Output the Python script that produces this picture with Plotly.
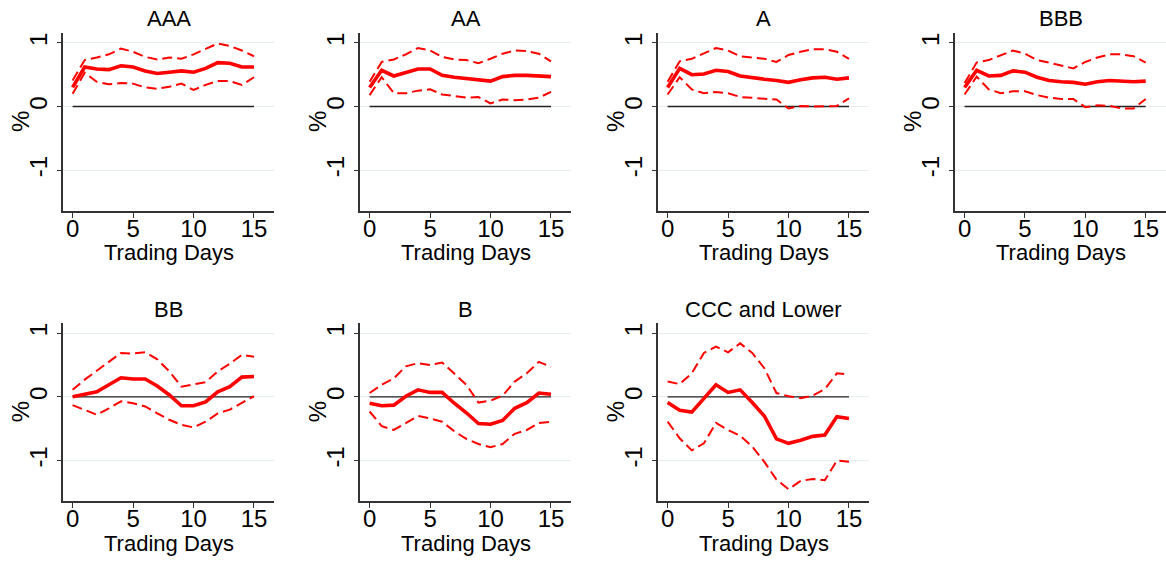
import plotly.graph_objects as go

days = list(range(16))
ratings = ["AAA", "AA", "A", "BBB", "BB", "B", "CCC and Lower"]

aaa_mean = [0.30, 0.62, 0.59, 0.58, 0.64, 0.62, 0.56, 0.52, 0.54, 0.56, 0.54, 0.60, 0.69, 0.68, 0.62, 0.62]
aaa_hi = [0.41, 0.73, 0.77, 0.82, 0.91, 0.86, 0.78, 0.74, 0.77, 0.75, 0.82, 0.90, 0.99, 0.95, 0.88, 0.79]
aaa_lo = [0.20, 0.53, 0.39, 0.35, 0.37, 0.36, 0.30, 0.28, 0.31, 0.36, 0.26, 0.34, 0.40, 0.40, 0.34, 0.46]

aa_mean = [0.30, 0.57, 0.48, 0.53, 0.59, 0.59, 0.49, 0.46, 0.44, 0.42, 0.40, 0.47, 0.49, 0.49, 0.48, 0.47]
aa_hi = [0.39, 0.70, 0.74, 0.82, 0.92, 0.88, 0.78, 0.74, 0.73, 0.68, 0.75, 0.83, 0.88, 0.87, 0.83, 0.71]
aa_lo = [0.18, 0.46, 0.21, 0.21, 0.25, 0.27, 0.19, 0.16, 0.14, 0.15, 0.05, 0.11, 0.10, 0.11, 0.14, 0.23]

a_mean = [0.30, 0.60, 0.50, 0.51, 0.57, 0.55, 0.48, 0.45, 0.43, 0.41, 0.38, 0.42, 0.45, 0.46, 0.43, 0.45]
a_hi = [0.39, 0.71, 0.75, 0.83, 0.92, 0.88, 0.79, 0.77, 0.75, 0.70, 0.81, 0.86, 0.90, 0.90, 0.86, 0.75]
a_lo = [0.19, 0.46, 0.27, 0.21, 0.23, 0.21, 0.15, 0.14, 0.12, 0.11, -0.03, 0.01, 0.00, 0.00, 0.01, 0.13]

bbb_mean = [0.30, 0.57, 0.48, 0.49, 0.56, 0.54, 0.46, 0.41, 0.39, 0.38, 0.35, 0.39, 0.41, 0.40, 0.39, 0.40]
bbb_hi = [0.37, 0.69, 0.73, 0.81, 0.88, 0.83, 0.73, 0.69, 0.65, 0.60, 0.70, 0.77, 0.82, 0.82, 0.79, 0.69]
bbb_lo = [0.19, 0.47, 0.27, 0.21, 0.24, 0.24, 0.18, 0.14, 0.12, 0.12, -0.01, 0.02, 0.01, -0.03, -0.03, 0.12]

bb_mean = [0.00, 0.04, 0.08, 0.19, 0.30, 0.28, 0.28, 0.17, 0.03, -0.14, -0.14, -0.08, 0.08, 0.16, 0.31, 0.32]
bb_hi = [0.11, 0.27, 0.41, 0.55, 0.69, 0.68, 0.70, 0.59, 0.40, 0.16, 0.19, 0.23, 0.40, 0.52, 0.66, 0.63]
bb_lo = [-0.13, -0.21, -0.28, -0.18, -0.07, -0.10, -0.15, -0.26, -0.36, -0.44, -0.48, -0.39, -0.26, -0.20, -0.10, 0.01]

b_mean = [-0.10, -0.14, -0.13, 0.01, 0.11, 0.07, 0.07, -0.10, -0.25, -0.42, -0.43, -0.37, -0.18, -0.09, 0.06, 0.04]
b_hi = [0.06, 0.19, 0.29, 0.48, 0.53, 0.50, 0.54, 0.37, 0.19, -0.09, -0.06, 0.02, 0.24, 0.37, 0.55, 0.47]
b_lo = [-0.23, -0.46, -0.52, -0.41, -0.30, -0.34, -0.39, -0.54, -0.66, -0.74, -0.79, -0.74, -0.58, -0.52, -0.41, -0.39]

ccc_mean = [-0.09, -0.21, -0.24, -0.02, 0.19, 0.07, 0.11, -0.09, -0.30, -0.66, -0.73, -0.68, -0.62, -0.60, -0.31, -0.34]
ccc_hi = [0.24, 0.20, 0.37, 0.69, 0.79, 0.70, 0.84, 0.69, 0.45, 0.06, 0.01, -0.02, 0.02, 0.12, 0.37, 0.35]
ccc_lo = [-0.39, -0.65, -0.84, -0.73, -0.41, -0.52, -0.61, -0.78, -1.02, -1.30, -1.45, -1.32, -1.29, -1.31, -1.00, -1.02]

panels = [
    (aaa_mean, aaa_hi, aaa_lo),
    (aa_mean, aa_hi, aa_lo),
    (a_mean, a_hi, a_lo),
    (bbb_mean, bbb_hi, bbb_lo),
    (bb_mean, bb_hi, bb_lo),
    (b_mean, b_hi, b_lo),
    (ccc_mean, ccc_hi, ccc_lo),
]

W, H = 1166, 561
FONT = "Liberation Sans, Arial, Helvetica, sans-serif"
RED = "#ff0000"
AXC = "#333333"

col_left = [63.3, 360.3, 658.3, 955.3]
pw = 211
row_top = [33.0, 323.3]
ph = 178
title_y = [19, 309]
xtitle_y = [253, 543]
ytitle_x = 20

fig = go.Figure()
annotations = []
layout_axes = {}

for i, (mean, hi, lo) in enumerate(panels):
    r, c = divmod(i, 4)
    k = "" if i == 0 else str(i + 1)
    xa, ya = "x" + k, "y" + k
    x0 = col_left[c] / W
    x1 = min(1.0, (col_left[c] + pw) / W)
    y1 = 1 - row_top[r] / H
    y0 = 1 - (row_top[r] + ph) / H

    fig.add_trace(go.Scatter(x=[days[0], days[-1]], y=[0, 0], mode="lines",
                             line=dict(color="#222222", width=1.4),
                             xaxis=xa, yaxis=ya, hoverinfo="skip"))
    fig.add_trace(go.Scatter(x=days, y=hi, mode="lines",
                             line=dict(color=RED, width=2, dash="10px,5px"),
                             xaxis=xa, yaxis=ya))
    fig.add_trace(go.Scatter(x=days, y=lo, mode="lines",
                             line=dict(color=RED, width=2, dash="10px,5px"),
                             xaxis=xa, yaxis=ya))
    fig.add_trace(go.Scatter(x=days, y=mean, mode="lines",
                             line=dict(color=RED, width=3.6),
                             xaxis=xa, yaxis=ya))

    layout_axes["xaxis" + k] = dict(
        domain=[x0, x1], anchor=ya, range=[-0.77, 16.68],
        tickvals=[0, 5, 10, 15], ticks="outside", ticklen=5, tickwidth=1.3,
        tickcolor=AXC, showline=True, linecolor=AXC, linewidth=1.5,
        showgrid=False, zeroline=False, ticklabelstandoff=-10,
        tickfont=dict(size=24, color="#000000"),
    )
    layout_axes["yaxis" + k] = dict(
        domain=[y0, y1], anchor=xa, range=[-1.64, 1.155],
        tickvals=[-1, 0, 1], ticktext=["-1", "0", "1"], tickangle=-90,
        ticks="outside", ticklen=5, tickwidth=1.3, tickcolor=AXC,
        showline=True, linecolor=AXC, linewidth=1.5,
        showgrid=True, gridcolor="#e6eff0", gridwidth=1, zeroline=False,
        tickfont=dict(size=24, color="#000000"),
    )
    cx = (col_left[c] + pw / 2) / W
    annotations.append(dict(
        text=ratings[i], xref="paper", yref="paper",
        x=cx, y=1 - title_y[r] / H,
        xanchor="center", yanchor="middle", showarrow=False,
        font=dict(size=22, color="#000000", family=FONT),
    ))
    annotations.append(dict(
        text="Trading Days", xref="paper", yref="paper",
        x=cx, y=1 - xtitle_y[r] / H,
        xanchor="center", yanchor="middle", showarrow=False,
        font=dict(size=22, color="#000000", family=FONT),
    ))
    annotations.append(dict(
        text="%", xref="paper", yref="paper", textangle=-90,
        x=(col_left[c] - 63.3 + ytitle_x) / W, y=(y0 + y1) / 2,
        xanchor="center", yanchor="middle", showarrow=False,
        font=dict(size=24, color="#000000", family=FONT),
    ))

fig.update_layout(
    width=W, height=H, margin=dict(l=0, r=0, t=0, b=0),
    paper_bgcolor="white", plot_bgcolor="white",
    font=dict(family=FONT, size=22, color="#000000"),
    showlegend=False, annotations=annotations,
    **layout_axes,
)

fig.write_html("out.html")
